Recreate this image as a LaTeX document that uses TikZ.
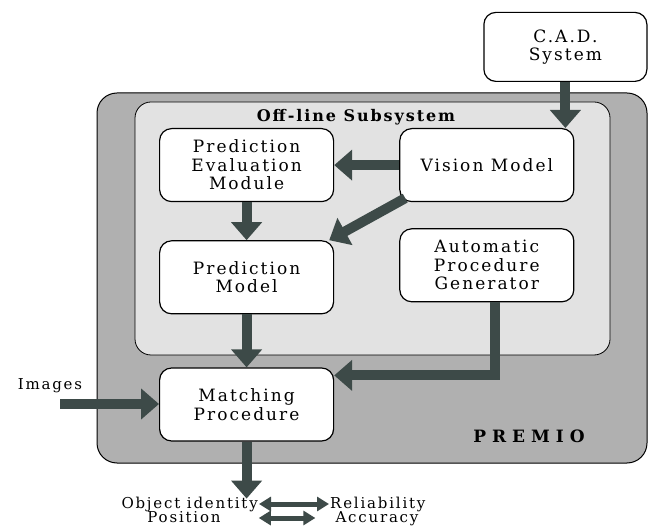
\documentclass[tikz,border=0pt]{standalone}
\usepackage{fontspec}
\setmainfont{DejaVu Serif}[LetterSpace=12]
\usetikzlibrary{positioning,arrows.meta}
\definecolor{premiogray}{HTML}{B0B0B0}
\definecolor{offlinegray}{HTML}{E2E2E2}
\definecolor{flowgray}{HTML}{3D4A48}
\tikzstyle{module}=[
	rectangle,
	draw=black,
	line width=1.2pt,
	rounded corners=12pt,
	fill=white,
	text centered,
	align=center,
	text=black,
	minimum width=174pt,
	minimum height=73pt,
	font=\fontsize{17}{18.5}\selectfont]
\tikzstyle{premioframe}=[
	rectangle,
	draw=black,
	line width=1pt,
	rounded corners=20pt,
	fill=premiogray,
	inner sep=0pt]
\tikzstyle{offlineframe}=[
	rectangle,
	draw=black,
	line width=0.8pt,
	rounded corners=16pt,
	fill=offlinegray,
	inner sep=0pt]
\tikzstyle{framelabel}=[
	text=black,
	font=\fontsize{16}{18}\selectfont\bfseries]
\tikzstyle{caption}=[
	text=black,
	inner sep=1pt,
	text height=11pt,
	text depth=3pt,
	font=\fontsize{15}{16}\selectfont]
\tikzstyle{flow}=[
	draw=flowgray,
	line width=10pt,
	-{Triangle[width=30pt,length=18pt]}]
\tikzstyle{pair}=[
	draw=flowgray,
	line width=5pt,
	{Triangle[width=14pt,length=12pt]}-{Triangle[width=14pt,length=12pt]}]

\begin{document}
\begin{tikzpicture}[x=1pt,y=1pt]

		\useasboundingbox (0,0) rectangle (648,-526);

		\node (Premio) [premioframe, minimum width=550pt, minimum height=370pt] at (372,-278) {};

		\node (OffLine) [offlineframe, minimum width=475pt, minimum height=253pt] at (372.5,-228.5) {};

		\node (OffLineTitle) [framelabel] at (356,-117.5) {Off-line Subsystem};

		\node (PremioTitle) [framelabel, font=\fontsize{17}{19}\selectfont\bfseries\addfontfeature{LetterSpace=35}] at (529,-436) {PREMIO};

		\node (PredictionEvaluation) [module, anchor=north west] at (159,-128) {
				Prediction\\Evaluation\\Module
		};

		\node (VisionModel) [module, right=65pt of PredictionEvaluation] {Vision Model};

		\node (ProcedureGenerator) [module, below=26pt of VisionModel] {
				Automatic\\Procedure\\Generator
		};

		\node (PredictionModel) [module, below=38pt of PredictionEvaluation] {
				Prediction\\Model
		};

		\node (MatchingProcedure) [module, below=53pt of PredictionModel] {
				Matching\\Procedure
		};

		\node (CadSystem) [module, minimum width=163pt, minimum height=69pt, above=46pt of VisionModel.north east, xshift=-9pt] {
				C.A.D.\\System
		};

		\node (Images) [caption] at (50,-386) {Images};
		\coordinate (ImagesIn) at (60,-404);
		\coordinate [below=57pt of MatchingProcedure] (Result);

		\draw[flow] (CadSystem) -- (CadSystem |- VisionModel.north);
		\draw[flow] (VisionModel) -- (PredictionEvaluation);
		\draw[flow] ([shift={(6pt,4pt)}]VisionModel.south west) -- ([xshift=-5pt]PredictionModel.north east);
		\draw[flow] (PredictionEvaluation) -- (PredictionModel);
		\draw[flow] (PredictionModel) -- (MatchingProcedure);
		\draw[flow] ([xshift=8pt]ProcedureGenerator.south) |- ([yshift=-8pt]MatchingProcedure.north east);
		\draw[flow] (ImagesIn) -- (ImagesIn -| MatchingProcedure.west);
		\draw[flow] (MatchingProcedure) -- (Result);

		\node (ObjectIdentity) [caption, anchor=base east] at (259,-508) {Object identity};
		\node (Reliability) [caption, anchor=base west] at (329,-508) {Reliability};
		\node (Position) [caption, anchor=base] at (184,-522) {Position};
		\node (Accuracy) [caption, anchor=base] at (377,-522) {Accuracy};

		\draw[pair] (ObjectIdentity) -- (Reliability);
		\draw[pair, shorten <=37pt, shorten >=19pt] (Position) -- (Accuracy);

	\end{tikzpicture}
\end{document}
